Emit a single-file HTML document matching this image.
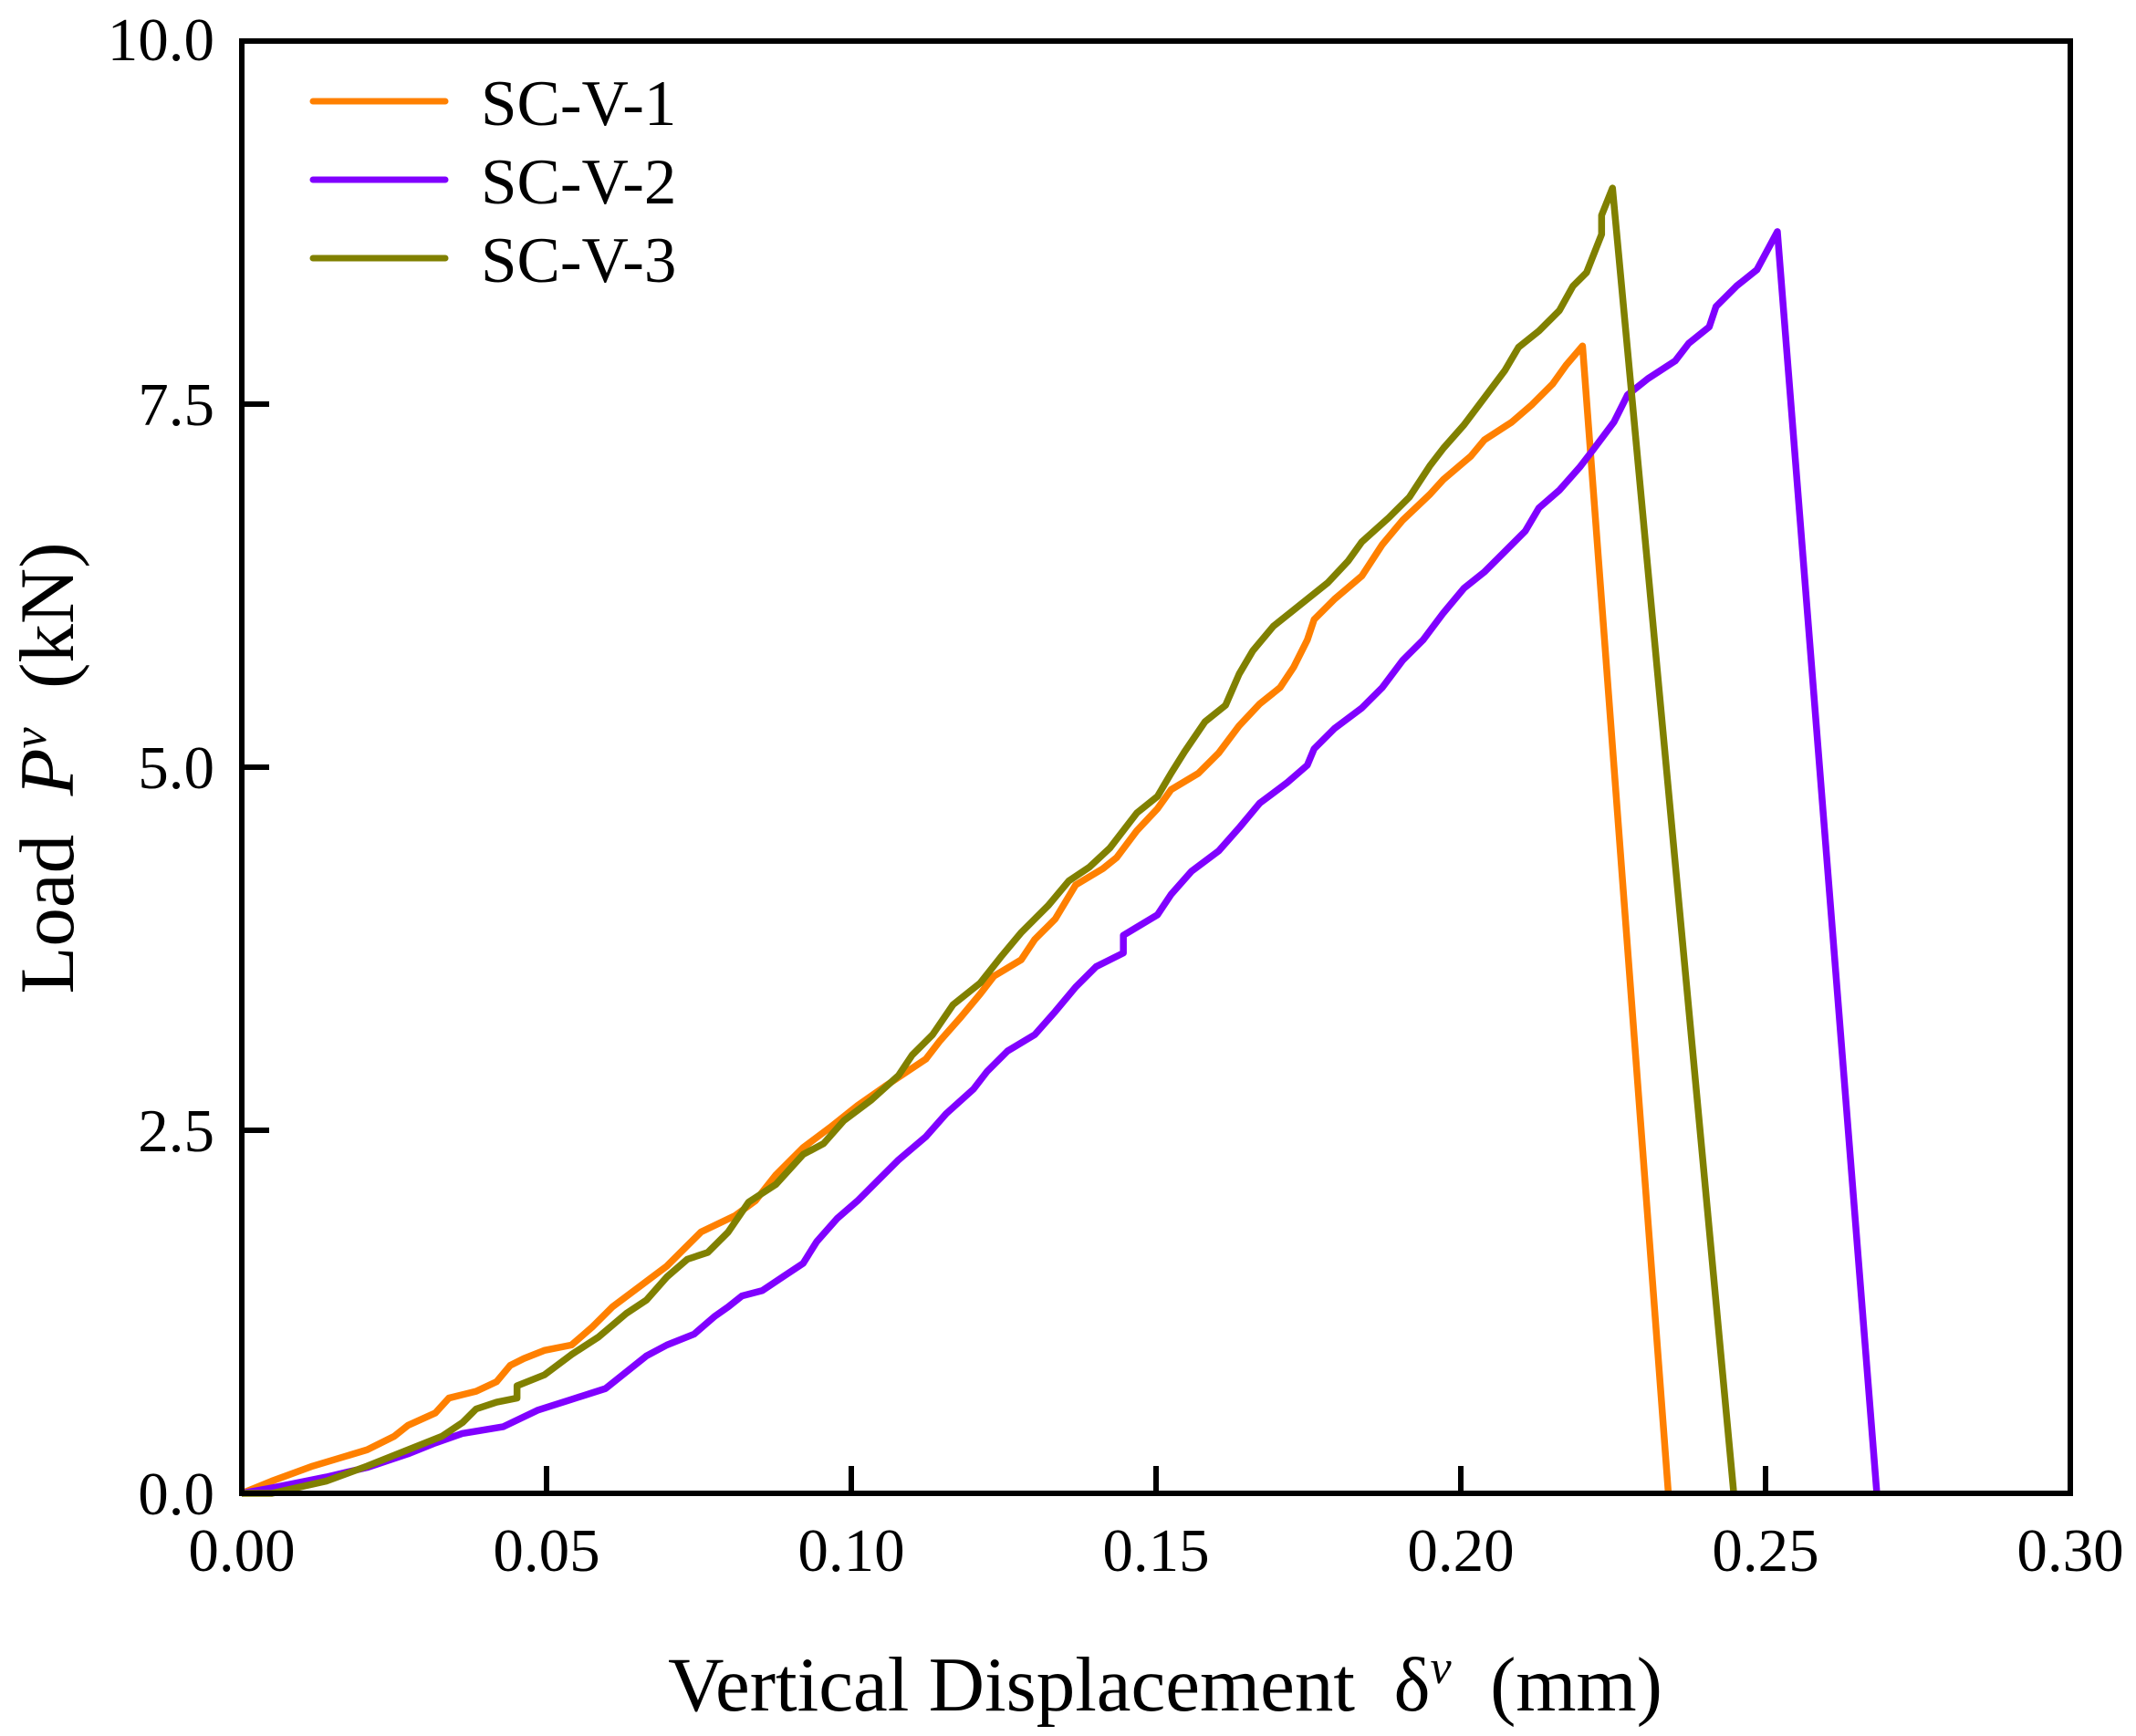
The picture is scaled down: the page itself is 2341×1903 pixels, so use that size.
<!DOCTYPE html>
<html><head><meta charset="utf-8"><style>
html,body{margin:0;padding:0;background:#fff;}
svg{display:block;}
text{font-family:"Liberation Serif",serif;fill:#000;}
</style></head><body>
<svg width="2341" height="1903" viewBox="0 0 2341 1903" xmlns="http://www.w3.org/2000/svg">
<rect width="2341" height="1903" fill="#fff"/>
<g fill="none" stroke-linejoin="round" stroke-linecap="butt" transform="matrix(1.4933,0,0,1.492,-0.807,0.276)">
<polyline vector-effect="non-scaling-stroke" stroke="#FF8000" stroke-width="7.5" points="178,1097 200,1088 230,1077 270,1065 290,1055 300,1047 320,1038 330,1027 350,1022 365,1015 375,1003 385,998 400,992 420,988 435,975 450,960 470,945 490,930 505,915 515,905 540,893 555,882 570,863 590,843 610,828 630,812 650,798 680,778 690,765 705,748 720,730 730,717 750,705 760,690 775,675 790,650 810,638 820,630 835,610 850,594 860,580 880,568 895,553 910,533 925,517 940,505 950,490 960,470 965,455 980,440 1000,423 1015,400 1030,382 1050,363 1060,352 1080,335 1090,323 1110,310 1125,297 1140,282 1150,268 1162,254 1225,1097"/>
<polyline vector-effect="non-scaling-stroke" stroke="#8000FF" stroke-width="7.5" points="178,1097 200,1093 240,1085 270,1078 300,1068 320,1060 340,1053 370,1048 395,1036 420,1028 445,1020 460,1008 475,996 490,988 510,980 525,967 535,960 545,952 560,948 575,938 590,928 600,912 615,895 630,882 645,867 660,852 680,835 695,818 715,800 725,787 740,772 760,760 775,743 790,725 805,710 825,700 825,687 850,672 860,657 875,640 895,625 910,608 925,590 945,575 960,562 965,550 980,535 1000,520 1015,505 1030,485 1045,470 1060,450 1075,432 1090,420 1105,405 1120,390 1130,373 1145,360 1160,343 1170,330 1185,310 1195,290 1210,278 1230,265 1240,252 1255,240 1260,225 1275,210 1290,198 1305,170 1378,1097"/>
<polyline vector-effect="non-scaling-stroke" stroke="#808000" stroke-width="7.5" points="178,1097 200,1097 240,1088 270,1077 300,1065 325,1055 340,1045 350,1035 365,1030 380,1027 380,1018 400,1010 420,995 440,982 460,965 475,955 490,938 505,925 520,920 535,905 550,883 570,870 590,848 605,840 620,823 640,808 660,790 670,775 685,760 700,738 720,722 735,703 750,685 770,665 785,647 800,637 815,623 835,597 850,585 860,568 870,552 885,530 900,518 910,495 920,478 935,460 950,448 975,428 990,412 1000,398 1020,380 1035,365 1050,342 1060,329 1075,312 1090,292 1105,272 1115,255 1130,243 1145,228 1155,210 1165,200 1176,172 1176,158 1184,138 1273,1097"/>
</g>
<g stroke="#000" stroke-width="6" fill="none">
<rect x="265" y="45" width="2004" height="1592"/>
<path d="M599,1637v-30M933,1637v-30M1267,1637v-30M1601,1637v-30M1935,1637v-30M265,1239h30M265,841h30M265,443h30"/>
</g>
<g font-size="67" text-anchor="end">
<text x="235" y="1660">0.0</text>
<text x="235" y="1262">2.5</text>
<text x="235" y="864">5.0</text>
<text x="235" y="466">7.5</text>
<text x="235" y="66">10.0</text>
</g>
<g font-size="67" text-anchor="middle">
<text x="265" y="1722">0.00</text>
<text x="599" y="1722">0.05</text>
<text x="933" y="1722">0.10</text>
<text x="1267" y="1722">0.15</text>
<text x="1601" y="1722">0.20</text>
<text x="1935" y="1722">0.25</text>
<text x="2269" y="1722">0.30</text>
</g>
<g stroke-width="7" stroke-linecap="round">
<line x1="343" y1="111" x2="488" y2="111" stroke="#FF8000"/>
<line x1="343" y1="197" x2="488" y2="197" stroke="#8000FF"/>
<line x1="343" y1="283" x2="488" y2="283" stroke="#808000"/>
</g>
<g font-size="71">
<text x="527" y="137">SC-V-1</text>
<text x="527" y="223">SC-V-2</text>
<text x="527" y="309">SC-V-3</text>
</g>
<text x="1277" y="1875" font-size="85" text-anchor="middle">Vertical Displacement&#160;&#160;δ<tspan font-size="52" dy="-30" font-style="italic">v</tspan><tspan dy="30">&#160;&#160;(mm)</tspan></text>
<text transform="translate(80,842) rotate(-90)" font-size="85" text-anchor="middle">Load&#160;&#160;<tspan font-style="italic">P</tspan><tspan font-size="52" dy="-30" font-style="italic">v</tspan><tspan dy="30">&#160;&#160;(kN)</tspan></text>
</svg>
</body></html>
